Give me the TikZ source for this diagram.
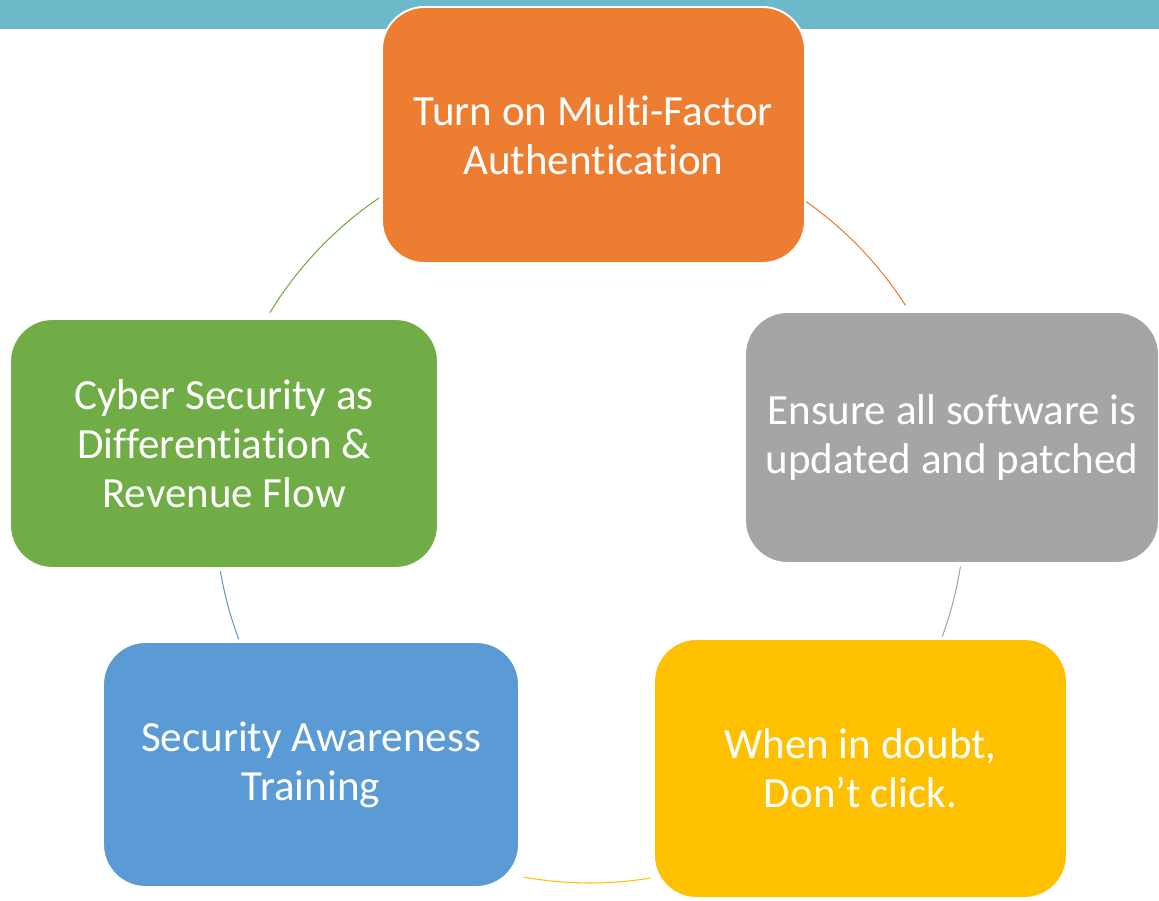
\documentclass[tikz,border=0pt]{standalone}
\usepackage{fontspec}
\setmainfont{Carlito}[Ligatures=NoCommon]
\usepackage{tikz}

\definecolor{band}{HTML}{6CB9CA}
\definecolor{mfaorange}{HTML}{ED7D31}
\definecolor{patchgray}{HTML}{A5A5A5}
\definecolor{clickgold}{HTML}{FFC000}
\definecolor{trainblue}{HTML}{5B9BD5}
\definecolor{revgreen}{HTML}{70AD47}

\newcommand{\pxu}{0.02cm}

\tikzset{
  box/.style={rounded corners=0.85cm, draw=white, line width=1.1pt,
    text=white, align=center, inner sep=0pt,
    font=\fontsize{24.5}{27.9}\selectfont},
  link/.style={line width=0.6pt}
}

\begin{document}
\begin{tikzpicture}[x=\pxu, y=\pxu]
\useasboundingbox (0,0) rectangle (1159,900);
% strip along the top edge
\fill[band] (0,871) rectangle (1159,900);

% the five steps, clockwise from the top
\node[box, fill=mfaorange, minimum width=423*\pxu, minimum height=256*\pxu]
  (mfa) at (593.5,765) {Turn on Multi-Factor\\Authentication};
\node[box, fill=patchgray, minimum width=414*\pxu, minimum height=251*\pxu]
  (patch) at (952,462.5) {Ensure all software is\\updated and patched};
\node[box, fill=clickgold, minimum width=413*\pxu, minimum height=259*\pxu]
  (click) at (860.5,131.5) {When in doubt,\\Don’t click.};
\node[box, fill=trainblue, minimum width=416*\pxu, minimum height=245*\pxu]
  (train) at (311,135.5) {Security Awareness\\Training};
\node[box, fill=revgreen, minimum width=428*\pxu, minimum height=249*\pxu]
  (revenue) at (224,456.5) {Cyber Security as\\Differentiation \&\\Revenue Flow};

% ring joining the steps
\coordinate (hub) at (590,392);
\draw[link, mfaorange] (hub) ++(54.8:375) arc[start angle=54.8, end angle=32.7, radius=375];
\draw[link, patchgray] (hub) ++(-9:375) arc[start angle=-9, end angle=-20, radius=375];
\draw[link, clickgold] (hub) ++(-80.7:375) arc[start angle=-80.7, end angle=-100.2, radius=375];
\draw[link, trainblue] (hub) ++(-159.5:375) arc[start angle=-159.5, end angle=-170.3, radius=375];
\draw[link, revgreen] (hub) ++(148.6:375) arc[start angle=148.6, end angle=124.3, radius=375];
\end{tikzpicture}
\end{document}
